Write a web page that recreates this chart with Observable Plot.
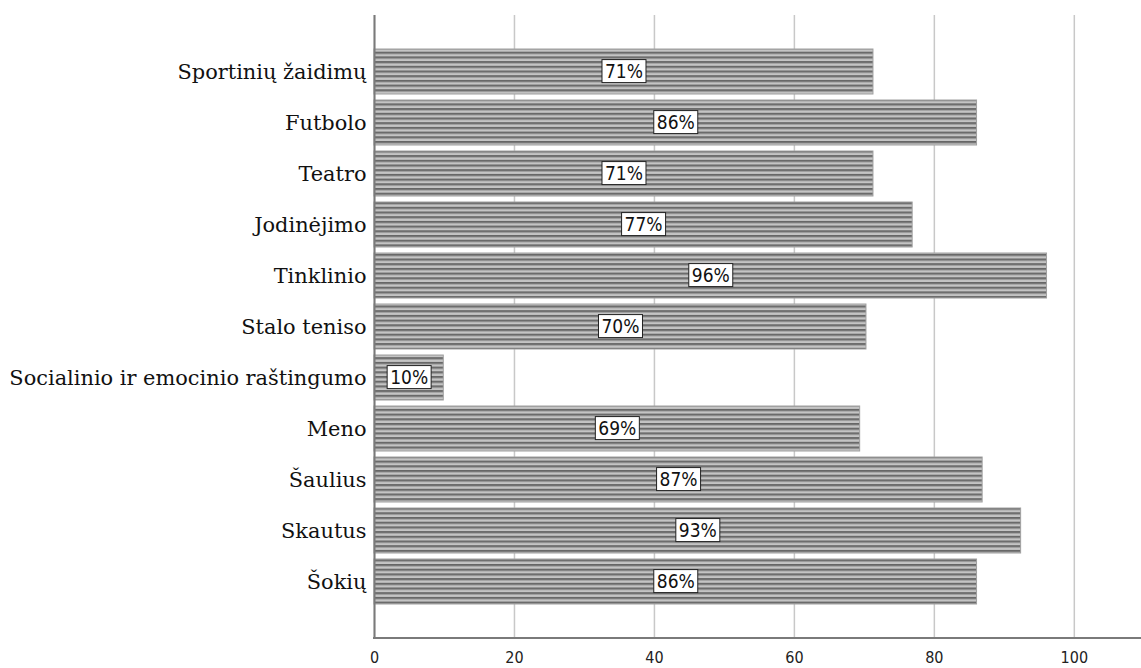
<!DOCTYPE html>
<html>
<head>
<meta charset="utf-8">
<script src="https://cdn.jsdelivr.net/npm/d3@7"></script>
<script src="https://cdn.jsdelivr.net/npm/@observablehq/plot@0.6"></script>
<style>
  html, body { margin: 0; padding: 0; background: #fff; }
  svg { display: block; }
  g.xax text { font-family: "DejaVu Sans Condensed", "DejaVu Sans", sans-serif; font-size: 16px; fill: #222; }
  g.yax text { font-family: "DejaVu Serif", serif; font-size: 20.9px; fill: #111; }
  g.barlabel text { font-family: "DejaVu Sans Condensed", "DejaVu Sans", sans-serif; font-size: 19px; fill: #111; }
</style>
</head>
<body>
<div id="chart"></div>
<script>
const categories = ["Sportinių žaidimų", "Futbolo", "Teatro", "Jodinėjimo", "Tinklinio", "Stalo teniso",
  "Socialinio ir emocinio raštingumo", "Meno", "Šaulius", "Skautus", "Šokių"];
const values = [71.3, 86.1, 71.3, 76.9, 96.1, 70.3, 9.9, 69.4, 86.9, 92.4, 86.1];
const labels = ["71%", "86%", "71%", "77%", "96%", "70%", "10%", "69%", "87%", "93%", "86%"];
const xTicks = [0, 20, 40, 60, 80, 100];

const data = categories.map((c, i) => ({category: c, value: values[i], label: labels[i]}));

const chart = Plot.plot({
  width: 1141,
  height: 668,
  marginLeft: 374,
  marginRight: 0,
  marginTop: 15,
  marginBottom: 30,
  style: {background: "#fff"},
  x: {domain: [0, 109.6], label: null},
  y: {domain: categories, label: null, paddingInner: 0.12, paddingOuter: 0.63},
  marks: [
    Plot.gridX(xTicks, {stroke: "#c8c8c8", strokeOpacity: 1, strokeWidth: 1.5}),
    Plot.barX(data, {y: "category", x: "value", fill: "url(#stripes)", stroke: "#a0a0a0", strokeWidth: 1}),
    Plot.ruleX([0], {stroke: "#7a7a7a", strokeWidth: 2}),
    Plot.axisX({ticks: xTicks, tickSize: 0, tickPadding: 13, label: null, className: "xax"}),
    Plot.axisY({tickSize: 0, tickPadding: 8, label: null, className: "yax"}),
    Plot.text(data, {y: "category", x: d => d.value / 2, text: "label", className: "barlabel"})
  ]
});

document.getElementById("chart").appendChild(chart);
const svg = d3.select(chart);
const defs = svg.insert("defs", ":first-child");
const pat = defs.append("pattern").attr("id", "stripes").attr("patternUnits", "userSpaceOnUse")
  .attr("width", 8).attr("height", 4.7);
pat.append("rect").attr("width", 8).attr("height", 4.7).attr("fill", "#c4c4c4");
pat.append("rect").attr("y", 0).attr("width", 8).attr("height", 1.8).attr("fill", "#666");
pat.append("rect").attr("y", 1.8).attr("width", 8).attr("height", 0.8).attr("fill", "#999");

// bottom baseline
svg.append("line").attr("x1", 373).attr("x2", 1141).attr("y1", 638).attr("y2", 638)
  .attr("stroke", "#7a7a7a").attr("stroke-width", 2);

// boxes behind bar labels
svg.selectAll("g.barlabel text").each(function() {
  const bb = this.getBBox();
  const padX = 3, padY = 0.5;
  d3.select(this.parentNode).insert("rect", () => this)
    .attr("transform", this.getAttribute("transform"))
    .attr("x", bb.x - padX).attr("y", bb.y - padY)
    .attr("width", bb.width + 2 * padX).attr("height", bb.height + 2 * padY)
    .attr("fill", "#fff").attr("stroke", "#222").attr("stroke-width", 1);
});
</script>
</body>
</html>
